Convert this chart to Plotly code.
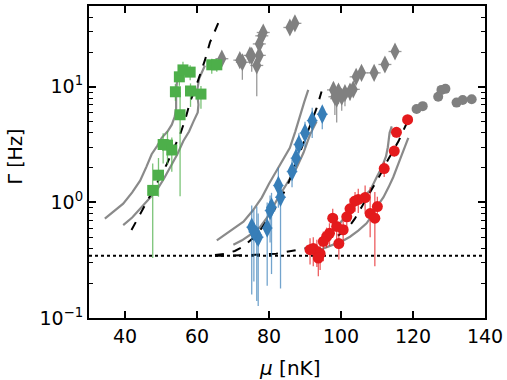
import plotly.graph_objects as go

# ---------------- data ----------------
green_mu = [47.7, 49.3, 50.6, 51.8, 53.0, 55.3, 54.0, 55.1, 56.1, 58.1, 58.2, 61.1, 64.1, 65.5]
green_g = [1.27, 1.72, 3.17, 3.13, 2.84, 5.73, 9.06, 12.2, 14.0, 13.4, 9.2, 8.65, 15.5, 15.5]
green_up = [0.9, 0.7, 0.8, 1.0, 0.8, 3.3, 1.5, 2.0, 2.5, 2.0, 1.5, 1.5, 2.0, 2.0]
green_dn = [0.94, 0.6, 1.0, 1.0, 1.0, 4.6, 1.5, 2.0, 2.5, 2.0, 2.5, 2.2, 2.5, 2.0]

blue_mu = [94.8, 92.0, 90.0, 88.3, 87.5, 86.4, 82.6, 83.2, 80.7, 80.3, 79.5, 76.6, 75.2, 77.0, 75.8]
blue_g = [5.8, 5.1, 3.99, 3.17, 2.41, 1.85, 1.40, 1.11, 0.91, 0.85, 0.60, 0.52, 0.61, 0.50, 0.557]
blue_up = [1.0, 1.5, 1.0, 0.8, 0.6, 0.5, 0.6, 0.24, 0.3, 0.3, 0.4, 0.4, 0.33, 0.3, 0.3]
blue_dn = [1.5, 1.5, 1.0, 0.8, 0.6, 0.5, 0.5, 0.93, 0.67, 0.4, 0.41, 0.38, 0.45, 0.373, 0.35]

red_mu = [118.5, 115.4, 114.8, 112.0, 110.1, 108.1, 109.4, 106.7, 104.8, 103.9, 102.5, 101.6,
          100.6, 99.4, 98.8, 97.7, 96.8, 96.0, 95.1, 92.3, 93.3, 94.2, 93.7, 91.4]
red_g = [5.19, 4.04, 2.78, 1.96, 0.92, 0.80, 0.73, 1.10, 1.06, 1.03, 0.88, 0.75,
         0.58, 0.44, 0.62, 0.73, 0.54, 0.505, 0.46, 0.40, 0.376, 0.36, 0.33, 0.39]
red_up = [0.5, 0.4, 0.3, 0.3, 0.2, 0.55, 0.5, 0.3, 0.25, 0.2, 0.2, 0.2,
          0.12, 0.1, 0.15, 0.15, 0.12, 0.1, 0.1, 0.1, 0.1, 0.08, 0.08, 0.1]
red_dn = [0.5, 0.4, 0.3, 0.3, 0.2, 0.3, 0.45, 0.3, 0.25, 0.2, 0.2, 0.2,
          0.12, 0.12, 0.15, 0.15, 0.12, 0.1, 0.15, 0.12, 0.1, 0.1, 0.1, 0.1]

grayd_mu = [66.9, 71.9, 72.6, 74.7, 75.2, 76.6, 77.3, 77.3, 78.0, 78.4, 85.8, 87.2,
            97.9, 98.3, 98.8, 99.3, 100.2, 101.1, 102.5, 103.4, 104.2, 105.7, 109.2, 112.2, 115.0]
grayd_g = [17.5, 17.0, 16.3, 18.7, 18.5, 15.3, 18.7, 23.5, 27.6, 29.5, 32.6, 35.4,
           9.4, 8.2, 7.9, 9.1, 8.2, 8.8, 9.1, 9.5, 12.2, 13.2, 13.2, 15.6, 20.2]
grayd_up = [1.5, 1.5, 2.0, 2.0, 2.0, 2.5, 2.0, 2.0, 2.0, 2.0, 2.0, 2.0,
            1.5, 1.5, 1.5, 1.0, 1.0, 1.0, 1.0, 1.0, 1.0, 1.0, 1.0, 1.0, 1.5]
grayd_dn = [1.5, 1.5, 4.8, 2.0, 5.0, 7.0, 2.0, 2.0, 2.0, 2.0, 2.0, 2.0,
            2.0, 2.5, 3.0, 2.0, 2.0, 2.0, 1.5, 1.0, 1.0, 1.0, 1.0, 1.0, 1.5]

grayc_mu = [121.0, 122.7, 127.0, 127.9, 129.0, 132.1, 133.8, 136.3]
grayc_g = [6.42, 6.8, 8.2, 9.4, 9.6, 7.3, 7.7, 7.8]

# theory curves (gray solid = bounds, black dashed = model)
g_up_mu = [34.4, 37.0, 39.5, 42.0, 44.2, 46.0, 47.4, 49.0, 50.2, 51.8, 53.0, 53.8, 54.2, 54.2, 54.5, 55.5]
g_up_g = [0.725, 0.84, 0.975, 1.22, 1.54, 2.05, 2.61, 3.1, 3.62, 4.1, 4.7, 5.5, 6.5, 9.1, 11.8, 13.5]
g_lo_mu = [39.5, 42.0, 44.2, 46.5, 48.8, 50.8, 52.5, 54.5, 56.2, 57.8, 59.0, 60.2, 60.4, 60.0, 60.6, 62.2]
g_lo_g = [0.636, 0.74, 0.88, 1.05, 1.27, 1.6, 2.0, 2.6, 3.4, 4.1, 5.0, 6.0, 7.0, 9.1, 11.8, 15.3]
g_da_mu = [41.8, 44.5, 46.9, 49.3, 51.6, 53.5, 55.3, 56.8, 58.1, 59.5, 60.8, 62.2, 63.6, 66.1]
g_da_g = [0.577, 0.82, 1.11, 1.55, 2.14, 2.9, 3.86, 5.3, 7.45, 9.6, 12.6, 17.0, 24.2, 36.7]

b_up_mu = [65.5, 68.0, 70.5, 72.9, 75.5, 78.0, 80.0, 82.1, 84.0, 85.8, 87.3, 88.6, 89.8, 90.9]
b_up_g = [0.47, 0.53, 0.6, 0.68, 0.85, 1.1, 1.45, 1.88, 2.35, 2.97, 4.1, 5.7, 7.4, 9.4]
b_lo_mu = [70.1, 72.5, 75.0, 77.5, 80.0, 82.1, 84.0, 86.0, 87.7, 89.6, 91.4, 93.2]
b_lo_g = [0.43, 0.47, 0.53, 0.61, 0.78, 1.04, 1.3, 1.65, 2.0, 2.7, 3.86, 5.0]
b_da_mu = [65.0, 68.0, 70.5, 72.9, 75.5, 78.0, 80.5, 83.1, 85.5, 87.7, 89.8, 91.7, 93.2, 94.6]
b_da_g = [0.35, 0.36, 0.38, 0.415, 0.49, 0.6, 0.78, 1.04, 1.5, 2.29, 3.3, 4.8, 6.5, 9.1]

r_up_mu = [95.0, 96.9, 98.5, 99.7, 101.0, 102.5, 104.0, 105.3, 106.8, 108.1, 109.9, 111.3, 112.5, 113.0, 113.5, 114.1]
r_up_g = [0.48, 0.54, 0.6, 0.66, 0.75, 0.85, 0.95, 1.04, 1.15, 1.27, 1.65, 2.0, 2.5, 3.0, 4.0, 4.55]
r_lo_mu = [94.2, 96.0, 97.9, 100.2, 102.5, 104.8, 107.1, 108.6, 109.9, 111.8, 113.2, 114.5, 116.4, 118.7]
r_lo_g = [0.39, 0.41, 0.43, 0.46, 0.505, 0.57, 0.66, 0.77, 0.91, 1.11, 1.35, 1.65, 2.36, 3.61]
r_da_mu = [65.0, 75.0, 82.0, 88.6, 92.0, 95.0, 98.5, 101.6, 103.8, 105.7, 107.6, 109.4, 111.2, 112.9, 114.5, 116.0, 118.7]
r_da_g = [0.345, 0.35, 0.36, 0.39, 0.41, 0.45, 0.5, 0.58, 0.72, 0.91, 1.15, 1.44, 1.8, 2.29, 2.8, 3.39, 5.2]

floor_mu = [30, 140]
floor_g = [0.345, 0.345]

# ---------------- figure ----------------
fig = go.Figure()
GRAY = "#8a8a8a"

for xs, ys in [(g_up_mu, g_up_g), (g_lo_mu, g_lo_g), (b_up_mu, b_up_g), (b_lo_mu, b_lo_g),
               (r_up_mu, r_up_g), (r_lo_mu, r_lo_g)]:
    fig.add_trace(go.Scatter(x=xs, y=ys, mode="lines", line=dict(color=GRAY, width=2.2)))
for xs, ys in [(g_da_mu, g_da_g), (b_da_mu, b_da_g), (r_da_mu, r_da_g)]:
    fig.add_trace(go.Scatter(x=xs, y=ys, mode="lines",
                             line=dict(color="black", width=2, dash="dash")))
fig.add_trace(go.Scatter(x=floor_mu, y=floor_g, mode="lines",
                         line=dict(color="black", width=2, dash="dot")))


def pts(xs, ys, up, dn, color, ecolor, symbol, size, xerr):
    fig.add_trace(go.Scatter(
        x=xs, y=ys, mode="markers",
        marker=dict(color=color, symbol=symbol, size=size, line=dict(width=0)),
        error_y=dict(type="data", symmetric=False, array=up, arrayminus=dn,
                     color=ecolor, thickness=1.3, width=0),
        error_x=dict(type="constant", value=xerr, color=ecolor, thickness=1.3, width=0),
    ))


pts(grayd_mu, grayd_g, grayd_up, grayd_dn, "#808080", "rgba(128,128,128,0.8)", "diamond-tall", 13, 1.8)
fig.add_trace(go.Scatter(x=grayc_mu, y=grayc_g, mode="markers",
                         marker=dict(color="#808080", symbol="circle", size=10)))
pts(green_mu, green_g, green_up, green_dn, "#4daf4a", "rgba(77,175,74,0.75)", "square", 11, 1.0)
pts(blue_mu, blue_g, blue_up, blue_dn, "#377eb8", "rgba(55,126,184,0.7)", "diamond-tall", 14, 1.5)
pts(red_mu, red_g, red_up, red_dn, "#e41a1c", "rgba(228,26,28,0.7)", "circle", 11, 0.8)

FONT = "DejaVu Sans"
fig.update_layout(
    width=507, height=380,
    margin=dict(l=89, r=22, t=4, b=62),
    plot_bgcolor="white", paper_bgcolor="white",
    showlegend=False,
    font=dict(family=FONT, size=19, color="black"),
    annotations=[
        dict(text="<i>μ</i> [nK]", xref="paper", yref="paper", x=0.508, y=-0.16,
             xanchor="center", yanchor="middle", showarrow=False, font=dict(size=20)),
        dict(text="Γ [Hz]", xref="paper", yref="paper", x=-0.186, y=0.519, textangle=-90,
             xanchor="center", yanchor="middle", showarrow=False, font=dict(size=19)),
    ],
)
fig.update_xaxes(
    range=[30, 140], tickvals=[40, 60, 80, 100, 120, 140],
    ticks="inside", ticklen=7, tickwidth=1.5, tickcolor="black",
    showline=True, linewidth=2, linecolor="black", mirror="ticks",
    showgrid=False, zeroline=False,
)
fig.update_yaxes(
    type="log", range=[-1, 1.699],
    tickvals=[0.1, 1, 10], ticktext=["10<sup>−1</sup>", "10<sup>0</sup>", "10<sup>1</sup>"],
    ticks="inside", ticklen=7, tickwidth=1.5, tickcolor="black",
    minor=dict(ticks="inside", ticklen=4, tickwidth=1, tickcolor="black",
               tickvals=[0.2, 0.3, 0.4, 0.5, 0.6, 0.7, 0.8, 0.9, 2, 3, 4, 5, 6, 7, 8, 9, 20, 30, 40],
               showgrid=False),
    showline=True, linewidth=2, linecolor="black", mirror="ticks",
    showgrid=False, zeroline=False,
)

fig.write_html("out.html")
